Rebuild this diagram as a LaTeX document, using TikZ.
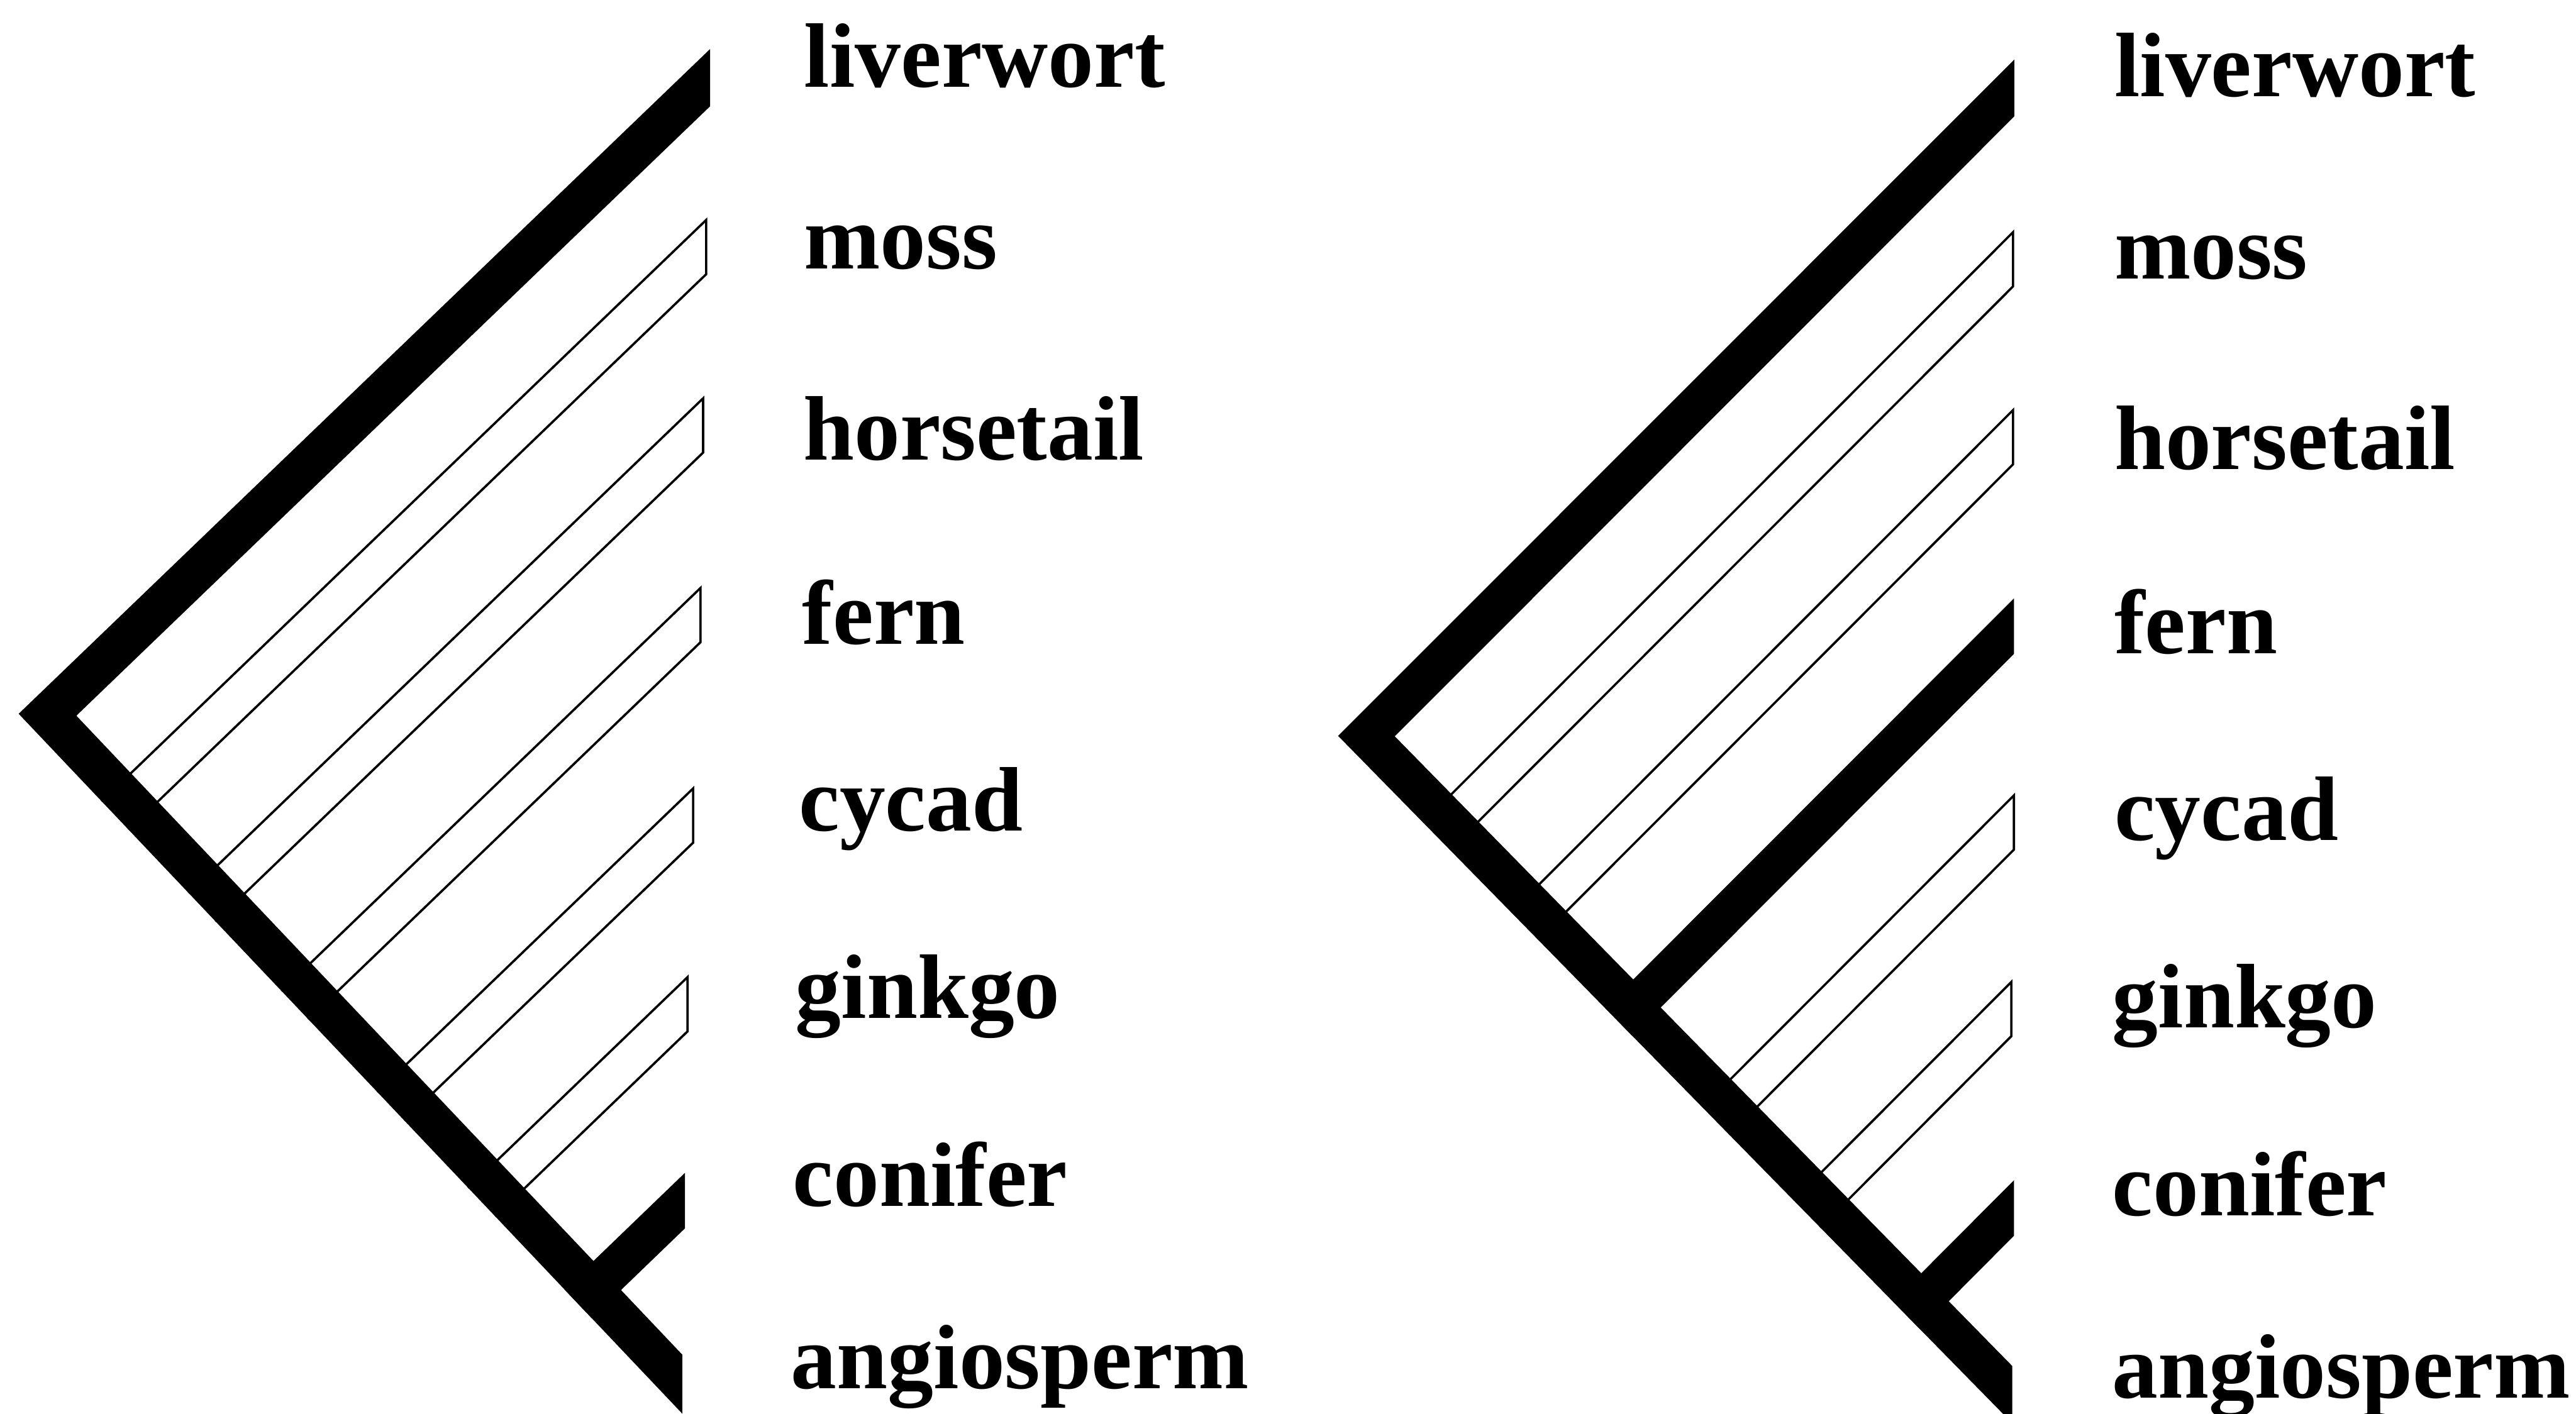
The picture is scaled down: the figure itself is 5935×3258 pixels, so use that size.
\documentclass[tikz,border=0pt]{standalone}
\usepackage{fontspec}
\setmainfont{Liberation Serif}
\usetikzlibrary{calc}
\tikzset{
  solidbr/.style={fill=black, draw=none},
  hollowbr/.style={draw=black, line width=1.5pt, line join=miter, line cap=butt},
  taxon/.style={anchor=base west, inner sep=0pt, font=\fontsize{60}{60}\selectfont\bfseries},
}
% #1 tree prefix, #2 name, #3 tip x, #4 tip top y
\newcommand{\hollowbranch}[4]{%
  \coordinate (#1#2t) at (#3,#4);
  \coordinate (#1#2b) at (#3,#4+125);
  \coordinate (#1#2tt) at ($(#1#2t)+(#1A)-(#1Lt)$);
  \coordinate (#1#2bb) at ($(#1#2b)+(#1A)-(#1Lt)$);
  \coordinate (#1#2to) at (intersection of #1#2t--#1#2tt and #1A--#1Bb);
  \coordinate (#1#2bo) at (intersection of #1#2b--#1#2bb and #1A--#1Bb);
  \draw[hollowbr] (#1#2to) -- (#1#2t) -- (#1#2b) -- (#1#2bo);
}
\newcommand{\solidbranch}[4]{%
  \coordinate (#1#2t) at (#3,#4);
  \coordinate (#1#2b) at (#3,#4+128);
  \coordinate (#1#2tt) at ($(#1#2t)+(#1A)-(#1Lt)$);
  \coordinate (#1#2bb) at ($(#1#2b)+(#1A)-(#1Lt)$);
  \coordinate (#1#2to) at (intersection of #1#2t--#1#2tt and #1A--#1Bb);
  \coordinate (#1#2bo) at (intersection of #1#2b--#1#2bb and #1A--#1Bb);
  \fill[solidbr] (#1#2to) -- (#1#2t) -- (#1#2b) -- (#1#2bo) -- cycle;
}
% #1 tree prefix, apex, liverwort tip (x, top, bottom), angiosperm tip (x, top)
\newcommand{\backbonepts}[8]{%
  \coordinate (#1A) at (#2,#3);
  \coordinate (#1Lt) at (#4,#5);
  \coordinate (#1Lb) at (#4,#6);
  \coordinate (#1Bt) at (#7,#8);
}
\begin{document}
\begin{tikzpicture}[x=0.01cm, y=-0.01cm]
\useasboundingbox (0,0) rectangle (5935,3258);
\clip (0,0) rectangle (5935,3258);

% ---------------- left tree ----------------
\backbonepts{L}{43}{1645}{1636}{113}{245}{1572}{3122}
\coordinate (LBb) at (1572,3258);
\coordinate (LLbb) at ($(LLb)+(LA)-(LLt)$);
\coordinate (LBtt) at ($(LBt)+(LA)-(LBb)$);
\coordinate (LAi) at (intersection of LLb--LLbb and LBt--LBtt);

\hollowbranch{L}{moss}{1627}{507}
\hollowbranch{L}{horse}{1620}{918}
\hollowbranch{L}{fern}{1614}{1355}
\hollowbranch{L}{cycad}{1597}{1817}
\hollowbranch{L}{ginkgo}{1584}{2252}
\solidbranch{L}{conifer}{1578}{2703}
\fill[solidbr] (LLt) -- (LA) -- (LBb) -- (LBt) -- (LAi) -- (LLb) -- cycle;

\node[taxon] (Lliverwort) at (1852,201) {liverwort};
\node[taxon] (Lmosslab) at (1852,620) {moss};
\node[taxon] (Lhorselab) at (1850,1060) {horsetail};
\node[taxon] (Lfernlab) at (1848,1484) {fern};
\node[taxon] (Lcycadlab) at (1840,1915) {cycad};
\node[taxon] (Lginkgolab) at (1832,2347) {ginkgo};
\node[taxon] (Lconiferlab) at (1826,2780) {conifer};
\node[taxon] (Langiolab) at (1822,3200) {angiosperm};

% ---------------- right tree ----------------
\backbonepts{R}{3083}{1696}{4641}{137}{268}{4636}{3148}
\coordinate (RBb) at (4636,3280);
\coordinate (RLbb) at ($(RLb)+(RA)-(RLt)$);
\coordinate (RBtt) at ($(RBt)+(RA)-(RBb)$);
\coordinate (RAi) at (intersection of RLb--RLbb and RBt--RBtt);

\hollowbranch{R}{moss}{4638}{535}
\hollowbranch{R}{horse}{4638}{945}
\solidbranch{R}{fern}{4640}{1379}
\hollowbranch{R}{cycad}{4640}{1833}
\hollowbranch{R}{ginkgo}{4634}{2263}
\solidbranch{R}{conifer}{4640}{2720}
\fill[solidbr] (RLt) -- (RA) -- (RBb) -- (RBt) -- (RAi) -- (RLb) -- cycle;

\node[taxon] (Rliverwort) at (4871,223) {liverwort};
\node[taxon] (Rmosslab) at (4871,642) {moss};
\node[taxon] (Rhorselab) at (4871,1082) {horsetail};
\node[taxon] (Rfernlab) at (4871,1506) {fern};
\node[taxon] (Rcycadlab) at (4871,1937) {cycad};
\node[taxon] (Rginkgolab) at (4866,2369) {ginkgo};
\node[taxon] (Rconiferlab) at (4866,2802) {conifer};
\node[taxon] (Rangiolab) at (4866,3222) {angiosperm};
\end{tikzpicture}
\end{document}
